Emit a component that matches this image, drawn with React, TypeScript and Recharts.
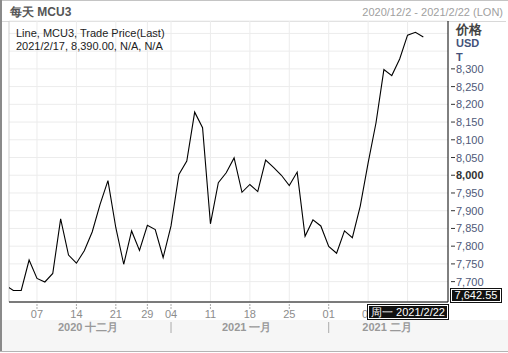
import { LineChart, Line, XAxis, YAxis, CartesianGrid, ReferenceLine } from 'recharts';

// LME trading days, 2020/12/1 .. 2021/2/17 (index -1 .. 52)
const dates = [
  '2020/12/1', '2020/12/2', '2020/12/3', '2020/12/4', '2020/12/7', '2020/12/8', '2020/12/9', '2020/12/10', '2020/12/11',
  '2020/12/14', '2020/12/15', '2020/12/16', '2020/12/17', '2020/12/18', '2020/12/21', '2020/12/22', '2020/12/23', '2020/12/24',
  '2020/12/29', '2020/12/30', '2020/12/31', '2021/1/4', '2021/1/5', '2021/1/6', '2021/1/7', '2021/1/8',
  '2021/1/11', '2021/1/12', '2021/1/13', '2021/1/14', '2021/1/15', '2021/1/18', '2021/1/19', '2021/1/20', '2021/1/21', '2021/1/22',
  '2021/1/25', '2021/1/26', '2021/1/27', '2021/1/28', '2021/1/29', '2021/2/1', '2021/2/2', '2021/2/3', '2021/2/4', '2021/2/5',
  '2021/2/8', '2021/2/9', '2021/2/10', '2021/2/11', '2021/2/12', '2021/2/15', '2021/2/16', '2021/2/17',
];

const prices = [
  7690, 7675, 7675, 7761, 7709, 7699, 7723, 7877, 7775,
  7752, 7787, 7840, 7918, 7985, 7852, 7749, 7843, 7788,
  7859, 7847, 7768, 7857, 8002, 8040, 8178, 8134,
  7863, 7979, 8007, 8049, 7952, 7974, 7954, 8043, 8022, 8000,
  7971, 8009, 7828, 7874, 7857, 7799, 7780, 7843, 7824, 7913,
  8035, 8148, 8298, 8281, 8328, 8395, 8403, 8390,
];

// x ticks (trading day index) and their labels; '15' sits under the cursor box
const dayTicks = [3, 8, 13, 17, 20, 25, 30, 35, 40, 45, 50];
const dayLabels = ['07', '14', '21', '29', '04', '11', '18', '25', '01', '08', ''];
const monthSeparators = [20, 40];
const monthPos = [9.5, 29.6, 47.4];
const monthLabels = ['2020 十二月', '2021 一月', '2021 二月'];

const yTicks = [7700, 7750, 7800, 7850, 7900, 7950, 8000, 8050, 8100, 8150, 8200, 8250, 8300, 8350, 8400];
const hiddenYLabels = [8350, 8400];

const cursorPrice = '7,642.55';
const cursorDate = '周一 2021/2/22';

const data = prices.map((p, i) => ({ i: i - 1, date: dates[i], price: p }));

const FONT = '"Liberation Sans", Arial, sans-serif';

function XTick(props: any) {
  const { x, y, payload } = props;
  const v = payload.value;
  const di = dayTicks.indexOf(v);
  const mi = monthPos.indexOf(v);
  return (
    <g>
      {di >= 0 && (
        <>
          <line x1={x} x2={x} y1={y + 2} y2={y + 7} stroke="#aaa" strokeDasharray="2 1" />
          {dayLabels[di] && (
            <text x={x} y={y + 16} textAnchor="middle" fontSize={11} fill="#8c8c8c" fontFamily={FONT}>
              {dayLabels[di]}
            </text>
          )}
        </>
      )}
      {monthSeparators.includes(v) && (
        <line x1={x} x2={x} y1={y + 20} y2={y + 31} stroke="#aaa" />
      )}
      {mi >= 0 && (
        <text x={x} y={y + 29} textAnchor="middle" fontSize={11} fontWeight="bold" fill="#999" fontFamily={FONT}>
          {monthLabels[mi]}
        </text>
      )}
    </g>
  );
}

function YTick(props: any) {
  const { x, y, payload } = props;
  const v = payload.value;
  if (hiddenYLabels.includes(v)) return <g />;
  const bold = v === 8000;
  return (
    <g>
      <line x1={x + 3} x2={x + 7} y1={y} y2={y} stroke="#333" />
      <text
        x={x + 8}
        y={y + 4}
        fontSize={11}
        fontWeight={bold ? 'bold' : 'normal'}
        fill={bold ? '#333' : '#4e5878'}
        fontFamily={FONT}
      >
        {v.toLocaleString('en-US')}
      </text>
    </g>
  );
}

export default function App() {
  return (
    <div style={{ position: 'absolute', left: 0, top: 0, width: 508, height: 353, background: '#fff', fontFamily: FONT, overflow: 'hidden' }}>
      {/* frame */}
      <div style={{ position: 'absolute', left: 0, top: 320, width: 508, height: 31, background: '#f6f6f6' }} />
      <div style={{ position: 'absolute', left: 0, top: 0, width: 508, height: 1, background: '#c4c4c4' }} />
      <div style={{ position: 'absolute', left: 0, top: 0, width: 2, height: 352, background: '#8a8a8a' }} />
      <div style={{ position: 'absolute', left: 0, top: 351, width: 508, height: 1, background: '#b4b4b4' }} />
      <div style={{ position: 'absolute', left: 2, top: 21, width: 504, height: 1, background: '#d8d8d8' }} />

      <div style={{ position: 'absolute', left: 10, top: 4, fontSize: 12, fontWeight: 'bold', color: '#555', whiteSpace: 'nowrap' }}>
        每天 MCU3
      </div>
      <div style={{ position: 'absolute', right: 5, top: 6, fontSize: 11, color: '#a0a0a0', whiteSpace: 'nowrap' }}>
        2020/12/2 - 2021/2/22 (LON)
      </div>

      <div style={{ position: 'absolute', left: 0, top: 0 }}>
        <LineChart width={508} height={353} data={data} margin={{ top: 21, right: 0, left: 9, bottom: 0 }}>
          <CartesianGrid vertical={false} stroke="#ececec" />
          {dayTicks.map((t) => (
            <ReferenceLine key={t} x={t} stroke="#ececec" />
          ))}
          <ReferenceLine x={-0.55} stroke="#cfcfcf" />
          <XAxis
            dataKey="i"
            type="number"
            domain={[-0.55, 55.13]}
            allowDataOverflow
            ticks={[...dayTicks, ...monthPos]}
            interval={0}
            tickLine={false}
            tickSize={0}
            tickMargin={0}
            axisLine={{ stroke: '#000' }}
            height={51}
            tick={<XTick />}
          />
          <YAxis
            orientation="right"
            type="number"
            domain={[7642.55, 8435]}
            allowDataOverflow
            ticks={yTicks}
            interval={0}
            tickLine={false}
            tickSize={0}
            tickMargin={0}
            axisLine={{ stroke: '#000' }}
            width={60}
            tick={<YTick />}
          />
          <Line type="linear" dataKey="price" stroke="#000" strokeWidth={1.1} dot={false} isAnimationActive={false} />
        </LineChart>
      </div>

      <div style={{ position: 'absolute', left: 16, top: 27, fontSize: 11, lineHeight: '13px', color: '#222', whiteSpace: 'nowrap' }}>
        <div>Line, MCU3, Trade Price(Last)</div>
        <div>2021/2/17, 8,390.00, N/A, N/A</div>
      </div>

      <div style={{ position: 'absolute', left: 456, top: 21, fontSize: 13, fontWeight: 'bold', color: '#444', whiteSpace: 'nowrap' }}>价格</div>
      <div style={{ position: 'absolute', left: 456, top: 37, fontSize: 11, fontWeight: 'bold', color: '#44527a' }}>USD</div>
      <div style={{ position: 'absolute', left: 456, top: 51, fontSize: 11, fontWeight: 'bold', color: '#44527a' }}>T</div>

      <div
        style={{
          position: 'absolute', left: 451, top: 289, width: 48, height: 11, background: '#111', color: '#fff',
          border: '1px solid #fff', outline: '1px solid #111', fontSize: 11, lineHeight: '11px', textAlign: 'center', whiteSpace: 'nowrap',
        }}
      >
        {cursorPrice}
      </div>
      <div
        style={{
          position: 'absolute', left: 368, top: 305, width: 78, height: 12, background: '#111', color: '#fff',
          border: '1px solid #fff', outline: '1px solid #111', fontSize: 11, lineHeight: '12px', textAlign: 'center', whiteSpace: 'nowrap',
        }}
      >
        {cursorDate}
      </div>
    </div>
  );
}
